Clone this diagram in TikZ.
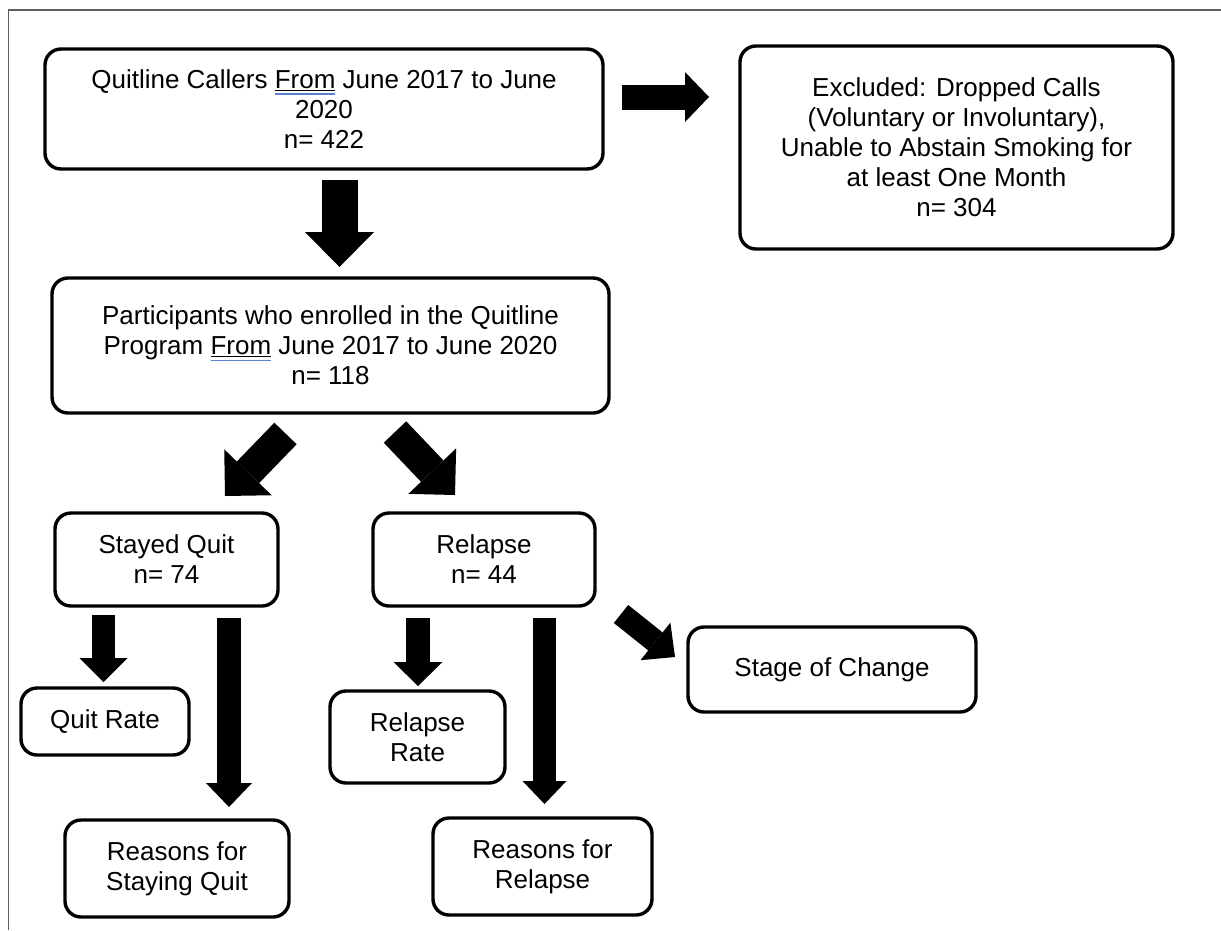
\documentclass[tikz,border=0pt]{standalone}
\usepackage{fontspec}
\setmainfont{Liberation Sans}
\usetikzlibrary{arrows.meta}
\definecolor{fromblue}{RGB}{90,130,210}
\definecolor{framegray}{RGB}{95,95,95}
\newcommand\fromu{\leavevmode\setbox0\hbox{From}\rlap{\color{fromblue}\rule[-6.5pt]{\wd0}{1.8pt}}\underline{From}}
\begin{document}
\begin{tikzpicture}[x=1pt,y=-1pt,
  box/.style={draw, line width=3.4pt, rounded corners=16pt, align=center,
    font=\fontsize{26}{30}\selectfont, inner sep=0pt},
  blk/.style n args={3}{line width=#1, -{Triangle[width=#2,length=#3,line width=0pt]}}]
\useasboundingbox (0,0) rectangle (1221,930);
\draw[framegray, line width=1.6pt] (8.5,930) -- (8.5,10) -- (1221,10);

% boxes
\node[box, minimum width=558pt, minimum height=120pt] (b1) at (324,109)
  {Quitline Callers \fromu{} June 2017 to June\\2020\\n= 422};
\node[box, minimum width=433pt, minimum height=203pt] (ex) at (956.5,147.5)
  {Excluded: Dropped Calls\\(Voluntary or Involuntary),\\Unable to Abstain Smoking for\\at least One Month\\n= 304};
\node[box, minimum width=557pt, minimum height=135pt] (b2) at (330.5,345.5)
  {Participants who enrolled in the Quitline\\Program \fromu{} June 2017 to June 2020\\n= 118};
\node[box, minimum width=223pt, minimum height=93pt] (sq) at (166.5,559.5)
  {Stayed Quit\\n= 74};
\node[box, minimum width=222pt, minimum height=93pt] (rl) at (484,559.5)
  {Relapse\\n= 44};
\node[box, minimum width=168pt, minimum height=67pt] (qr) at (105,721.5)
  {Quit Rate};
\node[box, minimum width=224pt, minimum height=97pt] (rsq) at (177,868.5)
  {Reasons for\\Staying Quit};
\node[box, minimum width=175pt, minimum height=92pt] (rr) at (417.5,737)
  {Relapse\\Rate};
\node[box, minimum width=219pt, minimum height=97pt] (rfr) at (542.5,866.5)
  {Reasons for\\Relapse};
\node[box, minimum width=288pt, minimum height=85pt] (soc) at (832,669.5)
  {Stage of Change};

% arrow end points
\coordinate (a1s) at (622,97);     \coordinate (a1e) at (709,97);
\coordinate (a2s) at (339.5,180);  \coordinate (a2e) at (339.5,267);
\coordinate (a3s) at (285.5,433.5);\coordinate (a3e) at (225,496);
\coordinate (a4s) at (395,432);    \coordinate (a4e) at (455,495);
\coordinate (a5s) at (103.5,615);  \coordinate (a5e) at (103.5,682);
\coordinate (a6s) at (229,618);    \coordinate (a6e) at (229,807);
\coordinate (a7s) at (418,618);    \coordinate (a7e) at (418,686);
\coordinate (a8s) at (544.5,618);  \coordinate (a8e) at (544.5,804);
\coordinate (a9s) at (621,614);    \coordinate (a9e) at (675,657);

\draw[blk={25pt}{50pt}{24pt}] (a1s) -- (a1e);
\draw[blk={36pt}{69pt}{35pt}] (a2s) -- (a2e);
\draw[blk={31pt}{66pt}{33pt}] (a3s) -- (a3e);
\draw[blk={31pt}{66pt}{33pt}] (a4s) -- (a4e);
\draw[blk={23pt}{48pt}{24pt}] (a5s) -- (a5e);
\draw[blk={24pt}{46pt}{24pt}] (a6s) -- (a6e);
\draw[blk={24pt}{49pt}{24pt}] (a7s) -- (a7e);
\draw[blk={23pt}{44pt}{23pt}] (a8s) -- (a8e);
\draw[blk={23pt}{48pt}{25pt}] (a9s) -- (a9e);
\end{tikzpicture}
\end{document}
